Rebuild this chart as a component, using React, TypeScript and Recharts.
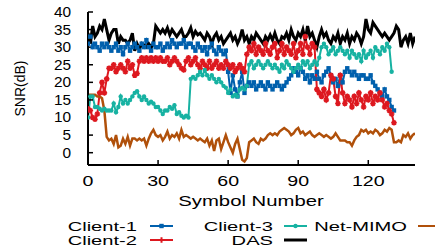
import React from 'react';
import { LineChart, Line, XAxis, YAxis } from 'recharts';

const xTicks = [0, 30, 60, 90, 120];
const yTicks = [0, 5, 10, 15, 20, 25, 30, 35, 40];

const client1 = [
  31, 33, 30, 31, 30, 29, 31, 30, 31, 30,
  29, 30, 31, 29, 30, 28, 30, 31, 29, 30,
  31, 30, 29, 31, 30, 32, 30, 29, 31, 30,
  30, 31, 29, 30, 31, 30, 32, 31, 30, 31,
  31, 32, 30, 31, 31, 30, 29, 31, 30, 29,
  30, 28, 30, 31, 29, 28, 30, 29, 28, 29,
  23, 17, 22, 18, 16, 20, 23, 17, 19, 20,
  19, 20, 18, 19, 20, 19, 18, 20, 19, 18,
  19, 20, 19, 18, 19, 20, 21, 22, 24, 23,
  22, 24, 23, 21, 22, 20, 22, 21, 23, 21,
  20, 22, 23, 24, 22, 20, 21, 19, 22, 20,
  23, 24, 23, 22, 23, 22, 21, 22, 22, 21,
  21, 22, 20, 19, 18, 17, 16, 18, 16, 15,
  13, 12,
];

const client2 = [
  12.5, 12, 10, 9.5, 11, 17, 20, 17, 21, 24,
  24, 25, 23, 24, 25, 24, 23, 26, 24, 25,
  22, 22.5, 26, 27, 26, 27, 26, 27, 26, 27,
  26, 27, 26, 26, 27, 25, 26, 27, 26, 25,
  24, 23.5, 26, 27, 25, 26, 27, 25, 24, 26,
  25, 24, 26, 24, 25, 26, 24, 25, 24, 26,
  25, 24, 25, 23, 24, 25, 24, 23, 28, 30,
  29, 31, 28, 30, 29, 28, 31, 29, 28, 30,
  31, 27, 29, 31, 28, 30, 29, 28, 31, 27,
  29, 31, 28, 33, 30, 28, 31, 30, 18, 17,
  16, 18, 15, 17, 22, 21, 16, 14, 22, 17,
  14, 16, 15, 13, 16, 14, 17, 15, 13, 16,
  15, 17, 14, 16, 15, 17, 15, 13, 14, 12,
  11, 8.5,
];

const client3 = [
  10, 16, 16, 13, 13, 12.5, 12, 12.5, 12, 12,
  12, 14, 11.5, 13, 16, 14, 15, 14, 15, 16,
  17, 17.5, 16, 15, 16, 15, 14, 14.5, 14, 13,
  13, 12, 11, 12, 12, 13, 12.5, 13.5, 11, 11.5,
  10.5, 10, 10.5, 10, 21, 21.5, 21, 22, 23, 22,
  23.5, 22, 21, 22, 21, 20, 21, 20, 19, 18.5,
  17, 18, 16, 16.5, 16, 18, 18.5, 18, 19, 25,
  26, 24, 25, 26, 25, 24, 25, 26, 25, 24,
  25, 24, 23, 25, 24, 26, 25, 24, 23, 24,
  25, 24, 26, 25, 26, 24, 25, 26, 25, 27,
  30, 31, 30, 28, 29, 30, 28, 29, 30, 29,
  28, 29, 27, 29, 28, 27, 28, 26, 29, 27,
  28, 29, 27, 30, 29, 28, 30, 29, 31, 30,
  23,
];

const netMimo = [
  16.5, 16.5, 16.5, 16.5, 16, 16, 15.5, 12, 4.5, 3.5,
  4, 2.5, 5, 1.5, 2, 4, 2.5, 4.5, 2, 4,
  4, 3.5, 4, 3.5, 4, 2, 4, 5.5, 6.5, 5,
  4.5, 5, 3.5, 4.5, 6, 4, 5, 4.5, 5.5, 4,
  6.5, 4.5, 5, 4.5, 4, 4.5, 4, 3.5, 4, 3.5,
  3, 4, 2, 3.5, 0.5, 3.5, 4, 1, 3, 5,
  3, 1.5, 0, 2.5, 4, 1, -2, -2.5, -1.5, 3,
  3.5, 4, 3, 2.5, 4, 3.5, 4, 5, 5.5, 5,
  5.5, 5, 6, 6.5, 7, 6.5, 6, 5, 5.5, 6.5,
  7, 5.5, 6, 5, 5.5, 6, 5, 4.5, 5, 5.5,
  5, 4.5, 5, 4.5, 4, 4.5, 5.5, 4.5, 3.5, 3.5,
  3.5, 3, 3, 2, 3.5, 4.5, 5, 6.5, 6, 6.5,
  5.5, 6, 5.5, 6.5, 6, 5, 5.5, 6.5, 6, 7,
  6.5, 3, 3, 3.5, 3, 5, 4.5, 5.5, 4, 5,
  5.5,
];

const das = [
  34, 31, 36, 33, 34, 36, 35, 38, 35, 32,
  34, 35, 35, 31, 33, 32, 32, 31, 32, 34,
  29, 31, 29.5, 31, 30.5, 30, 31, 30, 31, 36,
  35, 34, 35, 34, 35.5, 33.5, 35, 34, 33, 34,
  35, 33, 33, 34, 35.5, 33, 34.5, 33.5, 34, 33,
  32, 34, 33, 31, 33, 34, 32, 33, 31, 32,
  33, 34, 32, 33, 31, 32.5, 35, 32, 33, 31,
  33, 32, 34, 33, 32, 31, 33, 32, 33.5, 32,
  34, 32, 31, 33, 32.5, 34, 32, 35, 33, 32,
  34, 33, 35, 32, 36, 33, 34, 32, 30, 33,
  35, 33, 34, 32, 31, 33, 32, 34, 31, 33,
  32, 34, 31, 33, 32, 34, 33, 31, 33, 38,
  35, 34, 37, 36, 35, 34, 33, 34, 33, 32,
  33, 34, 36, 35, 30, 32, 33, 31, 34, 31,
  33,
];

const C1 = '#0060ad';
const C2 = '#dd181f';
const C3 = '#17b2a2';
const CN = '#b0500a';
const CD = '#000000';

const FONT = '"Liberation Sans", Arial, sans-serif';

const data = das.map((d, i) => ({
  x: i,
  c1: i < client1.length ? client1[i] : null,
  c2: i < client2.length ? client2[i] : null,
  c3: i < client3.length ? client3[i] : null,
  nm: netMimo[i],
  das: d,
}));

const SquareDot = (p: any) =>
  p.cy == null || p.value == null ? (
    <g key={p.key} />
  ) : (
    <rect key={p.key} x={p.cx - 2.2} y={p.cy - 2.2} width={4.4} height={4.4} fill={C1} />
  );

const CrossDot = (p: any) =>
  p.cy == null || p.value == null ? (
    <g key={p.key} />
  ) : (
    <path
      key={p.key}
      d={`M${p.cx - 2.8},${p.cy}h5.6M${p.cx},${p.cy - 2.8}v5.6M${p.cx - 2},${p.cy - 2}l4,4M${p.cx + 2},${p.cy - 2}l-4,4`}
      stroke={C2}
      strokeWidth={1.6}
      fill="none"
    />
  );

const CircleDot = (p: any) =>
  p.cy == null || p.value == null ? (
    <g key={p.key} />
  ) : (
    <circle key={p.key} cx={p.cx} cy={p.cy} r={2.2} fill={C3} />
  );

const XTick = (p: any) => (
  <text
    transform={`translate(${p.x},${p.y}) scale(1.4,1)`}
    textAnchor="middle"
    dy="0.71em"
    fontSize={14}
    fontFamily={FONT}
    fill="#000"
  >
    {p.payload.value}
  </text>
);

const YTick = (p: any) => (
  <text
    transform={`translate(${p.x},${p.y}) scale(1.1,1)`}
    textAnchor="end"
    dy="0.355em"
    fontSize={14}
    fontFamily={FONT}
    fill="#000"
  >
    {p.payload.value}
  </text>
);

const legendRows = [
  { name: 'Client-1', color: C1, textEnd: 137, lx: 150, y: 226, marker: 'square' },
  { name: 'Client-2', color: C2, textEnd: 137, lx: 150, y: 240, marker: 'cross' },
  { name: 'Client-3', color: C3, textEnd: 273, lx: 284, y: 226, marker: 'circle' },
  { name: 'DAS', color: CD, textEnd: 273, lx: 284, y: 240, marker: 'none' },
  { name: 'Net-MIMO', color: CN, textEnd: 407, lx: 418, y: 226, marker: 'none' },
];

const Overlay = () => (
  <svg
    width={435}
    height={251}
    style={{ position: 'absolute', left: 0, top: 0, pointerEvents: 'none' }}
  >
    <text
      transform="translate(25,88.5) rotate(-90)"
      textAnchor="middle"
      fontSize={14}
      fontFamily={FONT}
      fill="#000"
    >
      SNR(dB)
    </text>
    <text
      transform="translate(251,205.5) scale(1.45,1)"
      textAnchor="middle"
      fontSize={14}
      fontFamily={FONT}
      fill="#000"
    >
      Symbol Number
    </text>
    {legendRows.map((r) => (
      <g key={r.name}>
        <text
          transform={`translate(${r.textEnd},${r.y + 5}) scale(1.55,1)`}
          textAnchor="end"
          fontSize={13}
          fontFamily={FONT}
          fill="#000"
        >
          {r.name}
        </text>
        <line
          x1={r.lx}
          x2={r.lx + 23}
          y1={r.y}
          y2={r.y}
          stroke={r.color}
          strokeWidth={r.name === 'DAS' ? 3 : 2}
        />
        {r.marker === 'square' && (
          <rect x={r.lx + 9.3} y={r.y - 2.2} width={4.4} height={4.4} fill={r.color} />
        )}
        {r.marker === 'cross' && (
          <path
            d={`M${r.lx + 8.7},${r.y}h5.6M${r.lx + 11.5},${r.y - 2.8}v5.6`}
            stroke={r.color}
            strokeWidth={2}
          />
        )}
        {r.marker === 'circle' && <circle cx={r.lx + 11.5} cy={r.y} r={2.2} fill={r.color} />}
      </g>
    ))}
  </svg>
);

export default function App() {
  return (
    <div style={{ position: 'absolute', left: 0, top: 0, width: 435, height: 251, background: '#fff' }}>
      <LineChart
        width={435}
        height={251}
        data={data}
        margin={{ top: 12, right: 20, bottom: 0, left: 0 }}
      >
        <XAxis
          dataKey="x"
          type="number"
          domain={[0, 140]}
          ticks={xTicks}
          allowDataOverflow
          height={86}
          axisLine={{ stroke: '#000', strokeWidth: 2 }}
          tickLine={{ stroke: '#000', strokeWidth: 1.5 }}
          tickSize={-5}
          tickMargin={16}
          tick={XTick}
          interval={0}
        />
        <YAxis
          type="number"
          domain={[-3.5, 40]}
          ticks={yTicks}
          allowDataOverflow
          width={88}
          axisLine={{ stroke: '#000', strokeWidth: 2 }}
          tickLine={{ stroke: '#000', strokeWidth: 1.5 }}
          tickSize={-5}
          tickMargin={22}
          tick={YTick}
          interval={0}
        />
        <Line
          dataKey="c1"
          stroke={C1}
          strokeWidth={2}
          dot={SquareDot}
          activeDot={false}
          isAnimationActive={false}
          type="linear"
        />
        <Line
          dataKey="c2"
          stroke={C2}
          strokeWidth={2}
          dot={CrossDot}
          activeDot={false}
          isAnimationActive={false}
          type="linear"
        />
        <Line
          dataKey="c3"
          stroke={C3}
          strokeWidth={2}
          dot={CircleDot}
          activeDot={false}
          isAnimationActive={false}
          type="linear"
        />
        <Line
          dataKey="das"
          stroke={CD}
          strokeWidth={3}
          dot={false}
          activeDot={false}
          isAnimationActive={false}
          type="linear"
        />
        <Line
          dataKey="nm"
          stroke={CN}
          strokeWidth={2.5}
          dot={false}
          activeDot={false}
          isAnimationActive={false}
          type="linear"
        />
      </LineChart>
      <Overlay />
    </div>
  );
}
